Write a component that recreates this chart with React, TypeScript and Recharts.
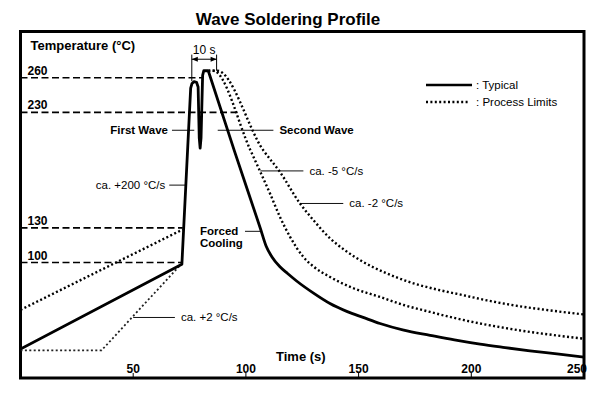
import { LineChart, Line, XAxis, YAxis, ReferenceLine, ReferenceArea } from 'recharts';

const FONT = '"Liberation Sans", Arial, Helvetica, sans-serif';

// time (s) vs temperature (°C)
// typical profile: preheat + the two waves
const typicalHeat = [
  { t: 0, T: 25 },
  { t: 71.6, T: 98.5 },
  { t: 75.5, T: 251 },
  { t: 76.1, T: 255 },
  { t: 77.0, T: 256.6 },
  { t: 78.1, T: 256 },
  { t: 78.8, T: 252 },
  { t: 79.3, T: 208 },
  { t: 79.7, T: 199 },
  { t: 80.1, T: 208 },
  { t: 80.8, T: 262 },
  { t: 81.3, T: 266 },
  { t: 83.3, T: 266 },
];

// typical profile: forced cooling
const typicalCool = [
  { t: 83.3, T: 266 },
  { t: 95, T: 196 },
  { t: 106.5, T: 129 },
  { t: 109, T: 114 },
  { t: 111.5, T: 105 },
  { t: 115, T: 96.5 },
  { t: 118.5, T: 90.5 },
  { t: 122.5, T: 84 },
  { t: 130, T: 73.5 },
  { t: 137.3, T: 64.5 },
  { t: 145, T: 57.5 },
  { t: 152, T: 52.5 },
  { t: 159.5, T: 47.2 },
  { t: 170, T: 41.5 },
  { t: 181.7, T: 37 },
  { t: 192.5, T: 33 },
  { t: 203.9, T: 29.3 },
  { t: 215, T: 26.3 },
  { t: 226, T: 23.5 },
  { t: 238, T: 20.8 },
  { t: 250, T: 18 },
];

const preheatHigh = [
  { t: 0, T: 59 },
  { t: 72, T: 128.6 },
];

const preheatLow = [
  { t: 0, T: 24 },
  { t: 36, T: 24 },
  { t: 71, T: 98 },
];

// ca. -5 °C/s
const coolFast = [
  { t: 83.3, T: 266 },
  { t: 85.5, T: 266 },
  { t: 102, T: 197.2 },
  { t: 106.4, T: 178.4 },
  { t: 110.7, T: 159.7 },
  { t: 115.1, T: 139.5 },
  { t: 119.6, T: 122.2 },
  { t: 125.5, T: 104.8 },
  { t: 130, T: 96.5 },
  { t: 137.3, T: 87.5 },
  { t: 148, T: 77.5 },
  { t: 159.5, T: 70.2 },
  { t: 170, T: 63.2 },
  { t: 181.7, T: 57.2 },
  { t: 192.5, T: 52 },
  { t: 203.9, T: 47.2 },
  { t: 215, T: 43.3 },
  { t: 226, T: 39.9 },
  { t: 238, T: 36.8 },
  { t: 250, T: 34 },
];

// ca. -2 °C/s
const coolSlow = [
  { t: 83.3, T: 266 },
  { t: 87.3, T: 266 },
  { t: 107.7, T: 197.2 },
  { t: 115.1, T: 178.4 },
  { t: 124, T: 151.1 },
  { t: 130, T: 136.6 },
  { t: 137.3, T: 121 },
  { t: 144, T: 110.5 },
  { t: 152, T: 100.5 },
  { t: 162, T: 91 },
  { t: 174.3, T: 82 },
  { t: 185, T: 76.5 },
  { t: 196.4, T: 71.7 },
  { t: 207, T: 67.2 },
  { t: 218.6, T: 63 },
  { t: 233, T: 59 },
  { t: 250, T: 55 },
];

const xTicks = [50, 100, 150, 200, 250];

const levels = [
  { T: 260, until: 81 },
  { T: 230, until: 97 },
  { T: 130, until: 72 },
  { T: 100, until: 72 },
];

const callouts = [
  { lines: ['First Wave'], from: 67.2, to: 77.1, T: 214.5, side: 'left', bold: true },
  { lines: ['Second Wave'], from: 87.5, to: 112.2, T: 214.5, side: 'right', bold: true },
  { lines: ['ca. +200 °C/s'], from: 66, to: 73.4, T: 167, side: 'left', bold: false },
  { lines: ['Forced', 'Cooling'], from: 99.6, to: 107, T: 127, side: 'block', bold: true },
  { lines: ['ca. -5 °C/s'], from: 106.4, to: 125.5, T: 179.3, side: 'right', bold: false },
  { lines: ['ca. -2 °C/s'], from: 124, to: 143.2, T: 151.1, side: 'right', bold: false },
  { lines: ['ca. +2 °C/s'], from: 50, to: 68.5, T: 52.4, side: 'right', bold: false },
];

// the "10 s" bracket above the waves
const bracket = { from: 76, to: 87, T: 276, leftTo: 257, rightTo: 266, top: 280 };

const DOTS = '2 2.4';

const XTick = (props: any) => {
  const { x, y, payload } = props;
  const last = payload.value === 250;
  return (
    <text
      x={last ? x + 3 : x}
      y={y}
      textAnchor={last ? 'end' : 'middle'}
      fontFamily={FONT}
      fontSize={12}
      fontWeight="bold"
      fill="#000"
    >
      {payload.value}
    </text>
  );
};

const calloutLabel = (c: (typeof callouts)[number]) => (props: any) => {
  const { x, y, width } = props.viewBox;
  const common = {
    fontFamily: FONT,
    fontSize: 11.5,
    fontWeight: c.bold ? 'bold' : 'normal',
    fill: '#000',
  };
  if (c.side === 'block') {
    return (
      <text x={x - 45} y={y + 3.5} textAnchor="start" {...common}>
        {c.lines.map((l, i) => (
          <tspan key={l} x={x - 45} dy={i === 0 ? 0 : 12}>
            {l}
          </tspan>
        ))}
      </text>
    );
  }
  const left = c.side === 'left';
  return (
    <text x={left ? x - 4 : x + width + 6} y={y + 4} textAnchor={left ? 'end' : 'start'} {...common}>
      {c.lines[0]}
    </text>
  );
};

const levelLabel = (T: number) => (props: any) => {
  const { x, y } = props.viewBox;
  return (
    <text x={x + 7} y={y - 3} fontFamily={FONT} fontSize={12} fontWeight="bold" fill="#000">
      {T}
    </text>
  );
};

const bracketLabel = (props: any) => {
  const { x, y, width } = props.viewBox;
  const r = x + width;
  return (
    <g>
      <polygon points={`${x},${y} ${x + 6},${y - 2.5} ${x + 6},${y + 2.5}`} fill="#000" />
      <polygon points={`${r},${y} ${r - 6},${y - 2.5} ${r - 6},${y + 2.5}`} fill="#000" />
      <text x={x + width / 2} y={y - 5} textAnchor="middle" fontFamily={FONT} fontSize={12} fill="#000">
        10 s
      </text>
    </g>
  );
};

export default function App() {
  return (
    <div style={{ position: 'absolute', left: 0, top: 0, width: 612, height: 399, background: '#fff' }}>
      <LineChart width={612} height={399} margin={{ top: 31.5, right: 28, bottom: 21, left: 20.5 }}>
        <XAxis
          dataKey="t"
          type="number"
          domain={[0, 250]}
          ticks={xTicks}
          allowDataOverflow
          mirror
          axisLine={false}
          tickLine={{ stroke: '#000', strokeWidth: 1 }}
          tickSize={5}
          tickMargin={0}
          tick={<XTick />}
        />
        <YAxis type="number" domain={[0, 300]} allowDataOverflow hide />

        {levels.map((l) => (
          <ReferenceLine
            key={l.T}
            segment={[
              { x: 0, y: l.T },
              { x: l.until, y: l.T },
            ]}
            stroke="#000"
            strokeWidth={1.6}
            strokeDasharray="7 3.5"
            label={levelLabel(l.T)}
          />
        ))}

        {callouts.map((c) => (
          <ReferenceLine
            key={c.lines.join(' ')}
            segment={[
              { x: c.from, y: c.T },
              { x: c.to, y: c.T },
            ]}
            stroke="#111"
            strokeWidth={1}
            label={calloutLabel(c)}
          />
        ))}

        <ReferenceLine
          segment={[
            { x: bracket.from, y: bracket.T },
            { x: bracket.to, y: bracket.T },
          ]}
          stroke="#000"
          strokeWidth={1}
          label={bracketLabel}
        />
        <ReferenceLine
          segment={[
            { x: bracket.from, y: bracket.top },
            { x: bracket.from, y: bracket.leftTo },
          ]}
          stroke="#000"
          strokeWidth={1}
        />
        <ReferenceLine
          segment={[
            { x: bracket.to, y: bracket.top },
            { x: bracket.to, y: bracket.rightTo },
          ]}
          stroke="#000"
          strokeWidth={1}
        />

        <Line data={preheatHigh} dataKey="T" type="linear" stroke="#000" strokeWidth={2.4} strokeDasharray={DOTS} dot={false} activeDot={false} isAnimationActive={false} />
        <Line data={preheatLow} dataKey="T" type="linear" stroke="#222" strokeWidth={1.8} strokeDasharray={DOTS} dot={false} activeDot={false} isAnimationActive={false} />
        <Line data={coolFast} dataKey="T" type="monotone" stroke="#000" strokeWidth={2.4} strokeDasharray={DOTS} dot={false} activeDot={false} isAnimationActive={false} />
        <Line data={coolSlow} dataKey="T" type="monotone" stroke="#000" strokeWidth={2.4} strokeDasharray={DOTS} dot={false} activeDot={false} isAnimationActive={false} />
        <Line data={typicalHeat} dataKey="T" type="linear" stroke="#000" strokeWidth={2.8} strokeLinejoin="round" dot={false} activeDot={false} isAnimationActive={false} />
        <Line data={typicalCool} dataKey="T" type="monotone" stroke="#000" strokeWidth={2.8} strokeLinejoin="round" dot={false} activeDot={false} isAnimationActive={false} />

        <ReferenceArea x1={0} x2={250} y1={0} y2={300} fill="none" fillOpacity={0} stroke="#000" strokeWidth={3} />

        {/* titles and legend */}
        <text x={288} y={25} textAnchor="middle" fontFamily={FONT} fontSize={17} fontWeight="bold" fill="#000">
          Wave Soldering Profile
        </text>
        <text x={30.5} y={50} fontFamily={FONT} fontSize={13} fontWeight="bold" fill="#000">
          Temperature (°C)
        </text>
        <text x={276} y={361} fontFamily={FONT} fontSize={13} fontWeight="bold" fill="#000">
          Time (s)
        </text>
        <line x1={426} y1={85} x2={472} y2={85} stroke="#000" strokeWidth={2.5} />
        <text x={476} y={89} fontFamily={FONT} fontSize={11.5} fill="#000">
          : Typical
        </text>
        <line x1={426} y1={102} x2={470} y2={102} stroke="#000" strokeWidth={2.4} strokeDasharray={DOTS} />
        <text x={476} y={106} fontFamily={FONT} fontSize={11.5} fill="#000">
          : Process Limits
        </text>
      </LineChart>
    </div>
  );
}
